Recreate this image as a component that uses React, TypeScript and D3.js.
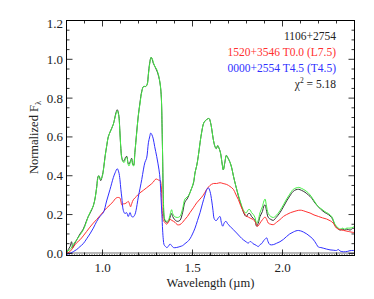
import React from "react";
import * as d3 from "d3";

type Pt = [number, number];

const xTicksMajor = [1.0, 1.5, 2.0];
const yTicksMajor = [0.0, 0.2, 0.4, 0.6, 0.8, 1.0, 1.2];

const legendLabels = ["1106+2754", "1520+3546 T0.0 (L7.5)", "0000+2554 T4.5 (T4.5)"];
const chiSquared = "5.18";

const greenSpectrum: Pt[] = [
  [0.80,0.01],[0.82,0.02],[0.84,0.05],[0.857,0.07],[0.875,0.095],[0.893,0.12],[0.91,0.16],[0.921,0.19],
  [0.935,0.22],[0.949,0.245],[0.96,0.29],[0.968,0.34],[0.975,0.39],[0.98,0.40],[0.99,0.38],[1.0,0.40],
  [1.005,0.43],[1.015,0.50],[1.023,0.555],[1.032,0.60],[1.042,0.625],[1.06,0.665],[1.075,0.72],[1.082,0.735],
  [1.09,0.71],[1.097,0.62],[1.102,0.54],[1.107,0.49],[1.115,0.47],[1.122,0.47],[1.128,0.49],[1.135,0.495],
  [1.142,0.46],[1.147,0.45],[1.155,0.47],[1.162,0.485],[1.168,0.455],[1.173,0.45],[1.18,0.52],[1.19,0.62],
  [1.199,0.71],[1.208,0.77],[1.218,0.83],[1.228,0.86],[1.24,0.86],[1.248,0.87],[1.255,0.92],[1.262,0.975],
  [1.27,1.01],[1.276,1.005],[1.282,0.985],[1.29,0.965],[1.30,0.95],[1.308,0.93],[1.316,0.90],[1.322,0.86],
  [1.327,0.80],[1.331,0.65],[1.334,0.50],[1.338,0.29],[1.343,0.19],[1.349,0.17],[1.36,0.165],[1.37,0.18],
  [1.378,0.21],[1.384,0.225],[1.39,0.205],[1.40,0.19],[1.415,0.185],[1.43,0.19],[1.445,0.23],[1.458,0.28],
  [1.47,0.29],[1.48,0.30],[1.493,0.33],[1.505,0.365],[1.515,0.42],[1.523,0.45],[1.532,0.50],[1.542,0.57],
  [1.552,0.63],[1.564,0.675],[1.579,0.69],[1.592,0.695],[1.60,0.675],[1.607,0.64],[1.615,0.59],[1.625,0.55],
  [1.632,0.54],[1.64,0.555],[1.646,0.545],[1.655,0.52],[1.665,0.46],[1.671,0.43],[1.68,0.47],[1.688,0.505],
  [1.695,0.495],[1.708,0.47],[1.718,0.44],[1.727,0.40],[1.74,0.35],[1.755,0.30],[1.768,0.26],[1.782,0.225],
  [1.792,0.21],[1.80,0.21],[1.81,0.225],[1.819,0.225],[1.828,0.21],[1.838,0.20],[1.847,0.185],[1.856,0.155],
  [1.865,0.17],[1.875,0.21],[1.888,0.24],[1.897,0.27],[1.903,0.28],[1.91,0.25],[1.921,0.205],[1.935,0.19],
  [1.949,0.185],[1.965,0.195],[1.986,0.22],[2.005,0.25],[2.023,0.28],[2.04,0.305],[2.06,0.33],[2.075,0.337],
  [2.09,0.34],[2.105,0.335],[2.125,0.325],[2.145,0.31],[2.162,0.29],[2.18,0.265],[2.199,0.24],[2.215,0.23],
  [2.236,0.215],[2.255,0.205],[2.273,0.19],[2.283,0.17],[2.292,0.148],[2.305,0.135],[2.32,0.125],[2.335,0.13],
  [2.345,0.125],[2.357,0.13],[2.375,0.13],[2.393,0.135],[2.40,0.14],
];

const blackSpectrum: Pt[] = [
  [0.80,0.0],[0.81,0.02],[0.82,0.035],[0.828,0.06],[0.835,0.03],[0.845,0.05],[0.857,0.07],[0.875,0.10],
  [0.893,0.125],[0.91,0.165],[0.921,0.19],[0.935,0.215],[0.949,0.245],[0.96,0.29],[0.968,0.345],[0.975,0.395],
  [0.98,0.40],[0.99,0.375],[1.0,0.405],[1.005,0.43],[1.015,0.505],[1.023,0.55],[1.032,0.60],[1.042,0.625],
  [1.06,0.665],[1.075,0.725],[1.082,0.74],[1.09,0.715],[1.097,0.62],[1.102,0.54],[1.107,0.495],[1.115,0.475],
  [1.122,0.48],[1.128,0.495],[1.135,0.50],[1.142,0.465],[1.147,0.46],[1.155,0.475],[1.162,0.49],[1.168,0.46],
  [1.173,0.455],[1.18,0.52],[1.19,0.625],[1.199,0.71],[1.208,0.775],[1.218,0.835],[1.228,0.86],[1.24,0.86],
  [1.248,0.87],[1.255,0.925],[1.262,0.98],[1.27,1.01],[1.276,1.0],[1.282,0.98],[1.29,0.965],[1.30,0.945],
  [1.308,0.925],[1.316,0.895],[1.322,0.86],[1.327,0.80],[1.331,0.65],[1.334,0.50],[1.338,0.28],[1.343,0.18],
  [1.349,0.165],[1.36,0.16],[1.37,0.17],[1.378,0.195],[1.384,0.205],[1.39,0.19],[1.40,0.175],[1.415,0.165],
  [1.43,0.17],[1.445,0.21],[1.458,0.265],[1.47,0.28],[1.48,0.30],[1.493,0.33],[1.505,0.36],[1.515,0.42],
  [1.523,0.45],[1.532,0.50],[1.542,0.57],[1.552,0.63],[1.564,0.675],[1.579,0.69],[1.592,0.695],[1.60,0.675],
  [1.607,0.64],[1.615,0.59],[1.625,0.55],[1.632,0.54],[1.64,0.555],[1.646,0.545],[1.655,0.52],[1.665,0.46],
  [1.671,0.43],[1.68,0.47],[1.688,0.505],[1.695,0.495],[1.708,0.47],[1.718,0.44],[1.727,0.40],[1.74,0.35],
  [1.755,0.295],[1.768,0.255],[1.782,0.215],[1.792,0.195],[1.80,0.19],[1.81,0.205],[1.819,0.205],[1.828,0.19],
  [1.838,0.18],[1.847,0.17],[1.856,0.14],[1.865,0.155],[1.875,0.19],[1.888,0.215],[1.897,0.245],[1.903,0.25],
  [1.91,0.225],[1.921,0.185],[1.935,0.175],[1.949,0.17],[1.965,0.185],[1.986,0.21],[2.005,0.24],[2.023,0.27],
  [2.04,0.295],[2.06,0.32],[2.075,0.328],[2.09,0.33],[2.105,0.325],[2.125,0.315],[2.145,0.30],[2.162,0.285],
  [2.18,0.26],[2.199,0.24],[2.215,0.225],[2.236,0.21],[2.255,0.20],[2.273,0.185],[2.283,0.165],[2.292,0.145],
  [2.305,0.13],[2.32,0.12],[2.335,0.125],[2.345,0.12],[2.357,0.125],[2.375,0.12],[2.393,0.13],[2.40,0.125],
];

const redSpectrum: Pt[] = [
  [0.80,0.0],[0.82,0.01],[0.84,0.035],[0.857,0.055],[0.875,0.07],[0.893,0.09],[0.912,0.113],[0.93,0.135],
  [0.949,0.156],[0.968,0.175],[0.986,0.194],[1.005,0.215],[1.023,0.234],[1.042,0.25],[1.06,0.268],[1.07,0.28],
  [1.079,0.287],[1.09,0.288],[1.097,0.285],[1.103,0.265],[1.107,0.25],[1.116,0.255],[1.125,0.256],[1.135,0.262],
  [1.143,0.268],[1.15,0.255],[1.156,0.24],[1.163,0.258],[1.171,0.276],[1.19,0.295],[1.208,0.312],[1.227,0.325],
  [1.245,0.338],[1.264,0.352],[1.282,0.367],[1.292,0.38],[1.301,0.383],[1.31,0.378],[1.32,0.376],[1.326,0.35],
  [1.33,0.26],[1.334,0.19],[1.34,0.165],[1.347,0.16],[1.356,0.15],[1.366,0.16],[1.375,0.175],[1.385,0.17],
  [1.403,0.16],[1.415,0.148],[1.43,0.148],[1.445,0.16],[1.458,0.175],[1.472,0.19],[1.486,0.21],[1.505,0.235],
  [1.523,0.26],[1.542,0.28],[1.56,0.30],[1.579,0.33],[1.597,0.35],[1.616,0.36],[1.634,0.36],[1.653,0.364],
  [1.67,0.36],[1.69,0.355],[1.708,0.345],[1.727,0.33],[1.74,0.305],[1.755,0.277],[1.768,0.245],[1.782,0.217],
  [1.796,0.195],[1.81,0.187],[1.824,0.18],[1.838,0.174],[1.85,0.16],[1.86,0.139],[1.868,0.145],[1.875,0.156],
  [1.89,0.175],[1.903,0.187],[1.912,0.175],[1.921,0.156],[1.935,0.15],[1.949,0.148],[1.967,0.16],[1.986,0.174],
  [2.005,0.19],[2.023,0.20],[2.045,0.21],[2.069,0.217],[2.09,0.222],[2.106,0.222],[2.13,0.215],[2.153,0.208],
  [2.175,0.198],[2.20,0.19],[2.222,0.183],[2.245,0.177],[2.265,0.168],[2.282,0.156],[2.292,0.14],[2.30,0.13],
  [2.32,0.122],[2.34,0.118],[2.365,0.113],[2.393,0.108],[2.40,0.108],
];

const blueSpectrum: Pt[] = [
  [0.80,-0.005],[0.82,0.0],[0.84,0.01],[0.857,0.02],[0.875,0.035],[0.893,0.05],[0.912,0.075],[0.93,0.10],
  [0.949,0.13],[0.968,0.165],[0.986,0.19],[0.995,0.20],[1.005,0.21],[1.023,0.27],[1.042,0.33],[1.06,0.39],
  [1.07,0.415],[1.082,0.436],[1.09,0.42],[1.097,0.38],[1.102,0.33],[1.107,0.29],[1.116,0.22],[1.125,0.205],
  [1.134,0.21],[1.143,0.19],[1.153,0.21],[1.162,0.19],[1.171,0.188],[1.18,0.20],[1.186,0.22],[1.199,0.29],
  [1.218,0.38],[1.227,0.43],[1.236,0.47],[1.245,0.49],[1.255,0.57],[1.262,0.60],[1.268,0.62],[1.275,0.61],
  [1.282,0.59],[1.29,0.55],[1.301,0.50],[1.314,0.43],[1.32,0.38],[1.325,0.29],[1.33,0.20],[1.334,0.12],
  [1.338,0.07],[1.342,0.045],[1.35,0.035],[1.357,0.03],[1.365,0.035],[1.375,0.048],[1.384,0.04],[1.394,0.03],
  [1.41,0.03],[1.43,0.035],[1.445,0.04],[1.458,0.05],[1.472,0.06],[1.486,0.075],[1.50,0.10],[1.514,0.13],
  [1.528,0.17],[1.542,0.21],[1.555,0.255],[1.569,0.30],[1.58,0.33],[1.588,0.338],[1.597,0.32],[1.607,0.27],
  [1.614,0.22],[1.62,0.18],[1.627,0.17],[1.634,0.17],[1.645,0.185],[1.653,0.19],[1.66,0.16],[1.668,0.14],
  [1.678,0.16],[1.686,0.165],[1.697,0.15],[1.708,0.14],[1.727,0.122],[1.745,0.105],[1.765,0.085],[1.782,0.07],
  [1.797,0.06],[1.81,0.053],[1.818,0.06],[1.826,0.06],[1.836,0.05],[1.847,0.045],[1.856,0.04],[1.866,0.035],
  [1.875,0.045],[1.884,0.05],[1.895,0.065],[1.905,0.075],[1.912,0.08],[1.92,0.06],[1.93,0.045],[1.949,0.045],
  [1.967,0.052],[1.986,0.06],[2.005,0.072],[2.023,0.087],[2.04,0.10],[2.06,0.11],[2.075,0.116],[2.088,0.118],
  [2.10,0.116],[2.116,0.11],[2.135,0.10],[2.153,0.087],[2.168,0.075],[2.18,0.06],[2.19,0.045],[2.20,0.032],
  [2.213,0.03],[2.226,0.027],[2.245,0.022],[2.264,0.018],[2.285,0.016],[2.30,0.015],[2.31,0.02],[2.32,0.012],
  [2.34,0.008],[2.36,0.01],[2.375,0.014],[2.393,0.015],[2.40,0.015],
];

const W = 374;
const H = 299;
const left = 66.5;
const top = 20.5;
const pw = 288;
const ph = 235;

const FONT = "Liberation Serif, Times New Roman, Times, serif";
const txt = { fontFamily: FONT };

export default function App() {
  const x = d3.scaleLinear().domain([0.8, 2.4]).range([left, left + pw]);
  const y = d3.scaleLinear().domain([-0.011, 1.2]).range([top + ph, top]);
  const line = d3
    .line<Pt>()
    .x((d) => x(d[0]))
    .y((d) => y(d[1]))
    .curve(d3.curveCatmullRom.alpha(0.5));

  const xMinor = d3.range(8, 25).map((v) => v / 10);
  const yMinor = d3.range(0, 25).map((v) => v * 0.05);

  const bottom = top + ph;
  const right = left + pw;

  return (
    <svg
      width={W}
      height={H}
      style={{ position: "absolute", left: 0, top: 0, background: "#fff" }}
    >
      <defs>
        <clipPath id="plotclip">
          <rect x={left} y={top} width={pw} height={ph} />
        </clipPath>
      </defs>
      <g clipPath="url(#plotclip)">
        <line x1={left} x2={right} y1={y(0.002)} y2={y(0.002)} stroke="#b8b8b8" strokeWidth={2} />
        <line x1={left} x2={right} y1={y(-0.006)} y2={y(-0.006)} stroke="#666" strokeWidth={0.8} strokeDasharray="1,1.5" />
        <path d={line(blackSpectrum) || ""} fill="none" stroke="#333" strokeWidth={1} />
        <path d={line(greenSpectrum) || ""} fill="none" stroke="#44ee44" strokeWidth={1} />
        <path d={line(redSpectrum) || ""} fill="none" stroke="#ff3030" strokeWidth={1} />
        <path d={line(blueSpectrum) || ""} fill="none" stroke="#3030ff" strokeWidth={1} />
      </g>
      <rect x={left} y={top} width={pw} height={ph} fill="none" stroke="#000" strokeWidth={1} />
      {xMinor.map((v, i) => {
        const major = xTicksMajor.some((m) => Math.abs(m - v) < 1e-6);
        const len = major ? 6 : 3;
        return (
          <g key={"xt" + i}>
            <line x1={x(v)} x2={x(v)} y1={bottom} y2={bottom - len} stroke="#000" strokeWidth={0.8} />
            <line x1={x(v)} x2={x(v)} y1={top} y2={top + len} stroke="#000" strokeWidth={0.8} />
          </g>
        );
      })}
      {yMinor.map((v, i) => {
        const major = yTicksMajor.some((m) => Math.abs(m - v) < 1e-6);
        const len = major ? 6 : 3;
        return (
          <g key={"yt" + i}>
            <line x1={left} x2={left + len} y1={y(v)} y2={y(v)} stroke="#000" strokeWidth={0.8} />
            <line x1={right} x2={right - len} y1={y(v)} y2={y(v)} stroke="#000" strokeWidth={0.8} />
          </g>
        );
      })}
      {xTicksMajor.map((v) => (
        <text key={"xl" + v} style={txt} x={x(v)} y={272} fontSize={13} textAnchor="middle" fill="#222">
          {v.toFixed(1)}
        </text>
      ))}
      {yTicksMajor.map((v) => (
        <text key={"yl" + v} style={txt} x={63} y={y(v) + 4.5 + (v === 1.2 ? 2.5 : 0)} fontSize={13} textAnchor="end" fill="#222">
          {v.toFixed(1)}
        </text>
      ))}
      <text style={txt} x={x(1.6)} y={286.5} fontSize={12.5} textAnchor="middle" fill="#222">
        Wavelength (µm)
      </text>
      <text style={txt} transform={`translate(38,137.5) rotate(-90)`} fontSize={12.5} textAnchor="middle" fill="#222">
        Normalized F<tspan fontSize={8.5} dy={3}>λ</tspan>
      </text>
      <text style={txt} x={336} y={39.5} fontSize={11.5} textAnchor="end" fill="#222">{legendLabels[0]}</text>
      <text style={txt} x={336} y={56} fontSize={11.5} textAnchor="end" fill="#ff3030">{legendLabels[1]}</text>
      <text style={txt} x={336} y={72} fontSize={11.5} textAnchor="end" fill="#3030ff">{legendLabels[2]}</text>
      <text style={txt} x={336} y={87.5} fontSize={11.5} textAnchor="end" fill="#222">
        χ<tspan fontSize={7.5} dy={-5}>2</tspan>
        <tspan dy={5}> = {chiSquared}</tspan>
      </text>
    </svg>
  );
}
